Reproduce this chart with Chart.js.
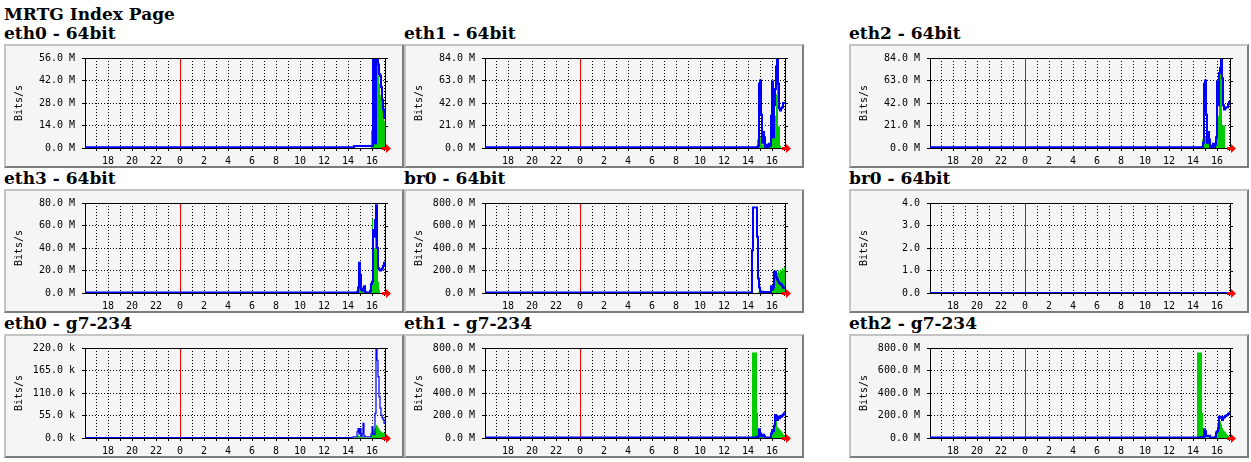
<!DOCTYPE html>
<html>
<head>
<meta charset="utf-8">
<title>MRTG Index Page</title>
<script src="https://cdn.jsdelivr.net/npm/chart.js@4"></script>
<style>
body{margin:0;background:#fff;}
h1,h2{position:absolute;margin:0;font-family:"DejaVu Serif",serif;font-weight:bold;font-size:17px;line-height:19px;white-space:nowrap;color:#000;}
.box{position:absolute;width:400px;height:124px;box-sizing:border-box;background:#f5f5f5;border:2px solid;border-color:#c4c4c4 #7c7c7c #7c7c7c #c4c4c4;}
.box canvas{position:absolute;left:-2px;top:-2px;}
</style>
</head>
<body>
<h1 style="left:4px;top:5px">MRTG Index Page</h1>
<script>
// sample times (hh:mm); first one is on the previous day
const START = '16:05';
const END = '17:05';
const SLOTS = ['14:20','14:25','14:30','14:35','14:40','14:45','14:50','14:55',
  '15:00','15:05','15:10','15:15','15:20','15:25','15:30','15:35','15:40','15:45','15:50','15:55',
  '16:00','16:05','16:10','16:15','16:20','16:25','16:30','16:35','16:40','16:45','16:50','16:55','17:00'];
const hourTicks = [-7,-6,-5,-4,-3,-2,-1,0,1,2,3,4,5,6,7,8,9,10,11,12,13,14,15,16,17];

// values: first = value at START, then one per SLOTS entry
const eth0_64_in  = [0, 0,0,0,0,0,0,0,0,0,0,0,0,0,0,0,0,0,0,0, 11,55,40,20,48,54,52,45,40,33,30,25,20,17];
const eth0_64_out = [0.5, 0.5,0.5,1.3,1.3,1.3,1.3,1.3,1.3,1.3,1.3,1.3,1.3,1.3,1.3,1.3,1.3,1.3,1.3,1.3, 1.3,1.3,56,3,3,56,56,52,46,45,38,30,24,19];
const eth1_64_in  = [0, 0,0,0,0,0, 8,37,20,10,5,3,10,5, 0,0,0,0,0, 2, 20,58,10,37,30,50,82,20,20,2,0,0,0,0];
const eth1_64_out = [0.6, 0.6,0.6,0.6,0.6,0.6, 1,2,60,63,31,5,15,10, 1,1,3,1,4, 2, 30,62,10,40,55,76,84,60,37,35,37,38,42,42];
const eth2_64_in  = [0, 0,0,0,0,0, 8,37,25,10,5,8,5,3, 0,0,0,0,0, 3, 10,62,30,60,75,84,21,21,21,0,0,0,0,0];
const eth2_64_out = [0.6, 0.6,0.6,0.6,0.6,0.6, 1,5,60,63,31,5,15,8, 1,1,2,4,1, 3, 10,62,40,70,75,84,65,40,36,37,38,38,41,43];
const eth3_64_in  = [0, 0,0,0,0,0, 3,27,15,3,2,4,3,2, 0,0,0,0,0, 2, 5,66,30,40,53,40,28,10,3,0,0,0,0,0];
const eth3_64_out = [0.4, 0.4,0.4,0.4,0.4,0.4, 1,5,27,16,3,2,4,6, 1,0.4,0.4,0.4,0.4, 2, 8,10,56,50,65,78,40,22,21,20,21,22,24,27];
const br0_64_in   = [0, 0,0,0,0,0, 0,10,70,20,10,20,25,5, 3,3,3,3,3, 5, 40,70,30,190,200,190,180,200,180,210,200,220,210,230];
const br0_64_out  = [5, 380,760,760,760,760, 500,130,50,15,10,10,8,8, 8,8,8,8,8, 10, 60,30,50,190,190,140,120,100,90,80,75,60,50,45];
const br0_b_in    = [0, 0,0,0,0,0, 0,0,0,0,0,0,0,0, 0,0,0,0,0, 0, 0,0,0,0,0,0,0,0,0,0,0,0,0,0];
const br0_b_out   = [0, 0,0,0,0,0, 0,0,0,0,0,0,0,0, 0,0,0,0,0, 0, 0,0,0,0,0,0,0,0,0,0,0,0,0,0];
const eth0_g7_in  = [0, 0,0,1,1,1, 5,7,5,3,0,2,5,2, 1,1,1,1,1, 1, 8,20,18,22,25,32,30,25,20,18,15,14,12,12];
const eth0_g7_out = [1, 1,3,3,3,3, 15,23,10,23,3,10,36,5, 3,3,3,3,3, 3, 10,27,10,8,60,217,190,150,101,73,56,50,45,36];
const eth1_g7_in  = [0, 760,760,760,760,760, 225,30,50,20,10,10,5,5, 0,0,0,0,0, 0, 20,85,90,120,170,160,100,90,80,70,60,50,30,25];
const eth1_g7_out = [5, 5,5,5,5,8, 8,15,77,40,15,15,30,15, 5,5,5,5,5, 5, 40,70,60,110,205,170,160,190,175,195,190,200,210,220];
const eth2_g7_in  = [0, 760,760,760,760,760, 225,20,40,15,5,5,5,3, 0,0,0,0,0, 5, 30,130,170,170,150,120,90,70,60,55,40,30,20,15];
const eth2_g7_out = [5, 5,5,5,5,8, 8,10,77,60,15,20,15,20, 5,5,5,5,5, 10, 50,60,90,190,180,190,160,180,185,195,200,205,215,220];

const panels = [
  {title:'eth0 - 64bit', col:0, row:0, max:56,  step:14, unit:'M', inp:eth0_64_in, out:eth0_64_out},
  {title:'eth1 - 64bit', col:1, row:0, max:84,  step:21, unit:'M', inp:eth1_64_in, out:eth1_64_out},
  {title:'eth2 - 64bit', col:2, row:0, max:84,  step:21, unit:'M', inp:eth2_64_in, out:eth2_64_out},
  {title:'eth3 - 64bit', col:0, row:1, max:80,  step:20, unit:'M', inp:eth3_64_in, out:eth3_64_out},
  {title:'br0 - 64bit',  col:1, row:1, max:800, step:200, unit:'M', inp:br0_64_in, out:br0_64_out},
  {title:'br0 - 64bit',  col:2, row:1, max:4,   step:1,  unit:'',  inp:br0_b_in, out:br0_b_out},
  {title:'eth0 - g7-234', col:0, row:2, max:220, step:55, unit:'k', inp:eth0_g7_in, out:eth0_g7_out},
  {title:'eth1 - g7-234', col:1, row:2, max:800, step:200, unit:'M', inp:eth1_g7_in, out:eth1_g7_out},
  {title:'eth2 - g7-234', col:2, row:2, max:800, step:200, unit:'M', inp:eth2_g7_in, out:eth2_g7_out}
];

const colX = [4, 404, 849];
const rowY = [44, 189, 334];

function hrs(s){ const [h,m] = s.split(':').map(Number); return h + m/60; }
const xMin = hrs(START) - 24, xMax = hrs(END);
const times = [xMin, ...SLOTS.map(hrs)];

// each value holds for the 5 minutes after its time stamp
function pts(vals){
  const p = vals.map((v,i) => ({x: times[i], y: v}));
  p.push({x: xMax, y: vals[vals.length-1]});
  return p;
}

const tickFont = {family:'"DejaVu Sans Mono", monospace', size:10};

const mrtgFrame = {
  id:'mrtgFrame',
  beforeDatasetsDraw(chart){
    const {ctx, chartArea:a, scales:{x}} = chart;
    const mx = Math.round(x.getPixelForValue(0)) + 0.5;
    ctx.save();
    ctx.strokeStyle = '#ff0000'; ctx.lineWidth = 1;
    ctx.beginPath(); ctx.moveTo(mx, a.top); ctx.lineTo(mx, a.bottom); ctx.stroke();
    ctx.restore();
  },
  afterDraw(chart){
    const {ctx, chartArea:a, scales:{y}} = chart;
    ctx.save();
    ctx.strokeStyle = '#000'; ctx.lineWidth = 1;
    ctx.beginPath();
    ctx.moveTo(a.left, a.top + 0.5); ctx.lineTo(a.right + 1, a.top + 0.5);
    ctx.moveTo(a.right + 0.5, a.top); ctx.lineTo(a.right + 0.5, a.bottom);
    y.ticks.forEach(t => {
      const py = Math.round(y.getPixelForValue(t.value)) + 0.5;
      ctx.moveTo(a.right, py); ctx.lineTo(a.right + 3, py);
    });
    ctx.stroke();
    // red arrow at the end of the time axis
    const by = Math.round(a.bottom);
    ctx.fillStyle = '#ff0000';
    ctx.fillRect(a.right - 3, by - 1, 4, 3);
    ctx.beginPath();
    ctx.moveTo(a.right + 1, by - 4); ctx.lineTo(a.right + 6, by + 0.5); ctx.lineTo(a.right + 1, by + 5);
    ctx.closePath(); ctx.fill();
    ctx.restore();
  }
};

panels.forEach(p => {
  const h = document.createElement('h2');
  h.textContent = p.title;
  h.style.left = colX[p.col] + 'px';
  h.style.top = (rowY[p.row] - 20) + 'px';
  document.body.appendChild(h);

  const box = document.createElement('div');
  box.className = 'box';
  box.style.left = colX[p.col] + 'px';
  box.style.top = rowY[p.row] + 'px';
  const cv = document.createElement('canvas');
  cv.width = 400; cv.height = 124;
  box.appendChild(cv);
  document.body.appendChild(box);

  new Chart(cv, {
    type:'line',
    data:{ datasets:[
      {label:'out', data:pts(p.out), borderColor:'#0000ff', borderWidth:p.row === 2 && p.col === 0 ? 1.2 : 2,
       stepped:'before', pointRadius:0, fill:false},
      {label:'in', data:pts(p.inp), borderColor:'#00cc00', borderWidth:0, backgroundColor:'#00cc00',
       stepped:'before', pointRadius:0, fill:'origin'}
    ]},
    options:{
      responsive:false, animation:false, events:[],
      layout:{padding:{top:14, right:19, bottom:0, left:0}},
      plugins:{legend:{display:false}, tooltip:{enabled:false}},
      scales:{
        x:{
          type:'linear', min:xMin, max:xMax,
          afterBuildTicks: s => { s.ticks = hourTicks.map(v => ({value:v})); },
          afterFit: s => { s.height = 20; },
          grid:{color: c => (c.tick && c.tick.value === 0) ? 'rgba(0,0,0,0)' : '#000', tickColor:'#000', tickLength:3},
          border:{color:'#000', dash:[1,2]},
          ticks:{autoSkip:false, maxRotation:0, padding:4, color:'#000', font:tickFont,
            callback: v => v % 2 === 0 ? String((v + 24) % 24) : ''}
        },
        y:{
          min:0, max:p.max,
          afterFit: s => { s.width = 81; },
          grid:{color:'#000', tickColor:'#000', tickLength:3},
          border:{color:'#000', dash:[1,2]},
          ticks:{stepSize:p.step, padding:7, color:'#000', font:tickFont,
            callback: v => v.toFixed(1) + (p.unit ? ' ' + p.unit : '')},
          title:{display:true, text:'Bits/s', color:'#000', font:tickFont, padding:{top:9, bottom:0}}
        }
      }
    },
    plugins:[mrtgFrame]
  });
});
</script>
</body>
</html>
